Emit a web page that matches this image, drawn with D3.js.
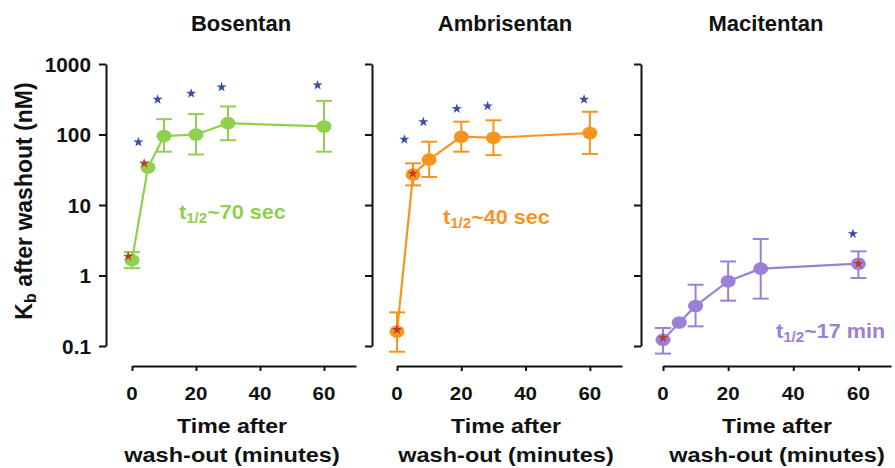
<!DOCTYPE html>
<html>
<head>
<meta charset="utf-8">
<script src="https://cdn.jsdelivr.net/npm/d3@7"></script>
<style>
  body { margin: 0; background: #fff; }
  text { font-family: "Liberation Sans", Arial, sans-serif; font-weight: bold; }
</style>
</head>
<body>
<div id="chart"></div>
<script>
// sampling times (minutes after wash-out)
const times = [0, 5, 10, 20, 30, 60];

const bosentanMean = [1.65, 34, 95, 100, 145, 130];
const bosentanLo   = [1.27, null, 57, 52, 83, 57];
const bosentanHi   = [2.15, null, 165, 195, 250, 300];

const ambrisentanMean = [0.16, 27, 44, 93, 90, 105];
const ambrisentanLo   = [0.083, 19, 25, 57, 51, 53];
const ambrisentanHi   = [0.30, 39, 79, 152, 159, 210];

const macitentanMean = [0.122, 0.215, 0.37, 0.83, 1.25, 1.47];
const macitentanLo   = [0.078, null, 0.19, 0.44, 0.47, 0.92];
const macitentanHi   = [0.18, null, 0.74, 1.58, 3.3, 2.2];

// significance markers [time, Kb]
const bosentanBlue = [[2, 78], [8, 314], [18.5, 382], [28, 470], [58, 500]];
const bosentanRed = [[-1.2, 1.87], [3.8, 39]];
const ambrisentanBlue = [[2.3, 85], [8.2, 151], [18.6, 232], [28.2, 253], [58.2, 315]];
const ambrisentanRed = [[0, 0.17], [4.9, 28]];
const macitentanBlue = [[58.3, 3.9]];
const macitentanRed = [[0, 0.13], [60, 1.47]];

const drugs = ["Bosentan", "Ambrisentan", "Macitentan"];
const halfLives = ["~70 sec", "~40 sec", "~17 min"];
const yTicks = [0.1, 1, 10, 100, 1000];
const xTicks = [0, 20, 40, 60];

const width = 895, height = 468;
const svg = d3.select("#chart").append("svg").attr("width", width).attr("height", height);

const panels = [
    {mean: bosentanMean, lo: bosentanLo, hi: bosentanHi, blue: bosentanBlue, red: bosentanRed,
     color: "#8fd14f", axisX: 106, x0: 132, w: 224, title: 241, label: 232, note: [179, 219]},
    {mean: ambrisentanMean, lo: ambrisentanLo, hi: ambrisentanHi, blue: ambrisentanBlue, red: ambrisentanRed,
     color: "#f7941d", axisX: 372, x0: 397, w: 225, title: 505, label: 506, note: [443, 224]},
    {mean: macitentanMean, lo: macitentanLo, hi: macitentanHi, blue: macitentanBlue, red: macitentanRed,
     color: "#9b80d8", axisX: 641, x0: 663, w: 228, title: 766, label: 777, note: [776, 338]}
];

const y = d3.scaleLog().domain([0.1, 1000]).range([346, 64]);
const xAxisY = 366;

// stretched text helper (figure text is a bit wider than it is tall)
function label(sel, x, yy, sx, size, anchor, str) {
    return sel.append("text")
        .attr("transform", "translate(" + x + "," + yy + ") scale(" + sx + ",1)")
        .attr("font-size", size).attr("text-anchor", anchor).attr("fill", "#111").text(str);
}

const star = d3.symbol().type(d3.symbolStar).size(32);

panels.forEach((p, i) => {
    const g = svg.append("g");
    const x = d3.scaleLinear().domain([0, 70]).range([p.x0, p.x0 + p.w]);

    // y axis
    const ya = g.append("g").attr("transform", "translate(" + p.axisX + ",0)")
        .call(d3.axisLeft(y).tickValues(yTicks).tickSize(7).tickSizeOuter(0).tickFormat(""));
    ya.select(".domain").attr("stroke", "#111").attr("stroke-width", 2);
    ya.selectAll(".tick line").attr("stroke", "#111").attr("stroke-width", 2);
    if (i === 0) {
        yTicks.forEach(t => label(g, 91, y(t) + 7.5, 1.04, 20, "end", t >= 1 ? d3.format("d")(t) : "0.1"));
    }

    // x axis
    const xa = g.append("g").attr("transform", "translate(0," + xAxisY + ")")
        .call(d3.axisBottom(x).tickValues(xTicks).tickSize(5).tickSizeOuter(0).tickFormat(""));
    xa.select(".domain").attr("stroke", "#111").attr("stroke-width", 2);
    xa.selectAll(".tick line").attr("stroke", "#111").attr("stroke-width", 2);
    xTicks.forEach(t => label(g, x(t), 400, 1.08, 19, "middle", String(t)));

    label(g, p.title, 31, 1.0, 22, "middle", drugs[i]);
    label(g, p.label, 433, 1.1, 21, "middle", "Time after");
    label(g, p.label, 462, 1.12, 21, "middle", "wash-out (minutes)");

    // error bars
    const rows = times.map((t, k) => ({t: t, m: p.mean[k], lo: p.lo[k], hi: p.hi[k]}));
    const eb = rows.filter(d => d.lo != null);
    g.selectAll(".ev").data(eb).enter().append("line")
        .attr("x1", d => x(d.t)).attr("x2", d => x(d.t))
        .attr("y1", d => y(d.lo)).attr("y2", d => y(d.hi))
        .attr("stroke", p.color).attr("stroke-width", 2);
    ["lo", "hi"].forEach(k => {
        g.selectAll(".cap-" + k).data(eb).enter().append("line")
            .attr("x1", d => x(d.t) - 8).attr("x2", d => x(d.t) + 8)
            .attr("y1", d => y(d[k])).attr("y2", d => y(d[k]))
            .attr("stroke", p.color).attr("stroke-width", 2);
    });

    // mean line + markers
    g.append("path").datum(rows)
        .attr("d", d3.line().x(d => x(d.t)).y(d => y(d.m)))
        .attr("fill", "none").attr("stroke", p.color).attr("stroke-width", 2.2);
    g.selectAll(".pt").data(rows).enter().append("ellipse")
        .attr("cx", d => x(d.t)).attr("cy", d => y(d.m))
        .attr("rx", 7.5).attr("ry", 6.3).attr("fill", p.color);

    // stars
    g.selectAll(".bs").data(p.blue).enter().append("path")
        .attr("d", star).attr("fill", "#3c4aa8")
        .attr("transform", d => "translate(" + x(d[0]) + "," + y(d[1]) + ")");
    g.selectAll(".rs").data(p.red).enter().append("path")
        .attr("d", star).attr("fill", "#c0392b")
        .attr("transform", d => "translate(" + x(d[0]) + "," + y(d[1]) + ")");

    // half-life note
    const note = g.append("text")
        .attr("transform", "translate(" + p.note[0] + "," + p.note[1] + ") scale(1.08,1)")
        .attr("font-size", 20).attr("fill", p.color);
    note.append("tspan").text("t");
    note.append("tspan").attr("font-size", 14).attr("dy", 4).text("1/2");
    note.append("tspan").attr("dy", -4).text(halfLives[i]);
});

// y axis title
const yt = svg.append("text")
    .attr("transform", "translate(32,201) rotate(-90)")
    .attr("text-anchor", "middle").attr("font-size", 23).attr("fill", "#111");
yt.append("tspan").text("K");
yt.append("tspan").attr("font-size", 16).attr("dy", 4).text("b");
yt.append("tspan").attr("dy", -4).text(" after washout (nM)");
</script>
</body>
</html>
